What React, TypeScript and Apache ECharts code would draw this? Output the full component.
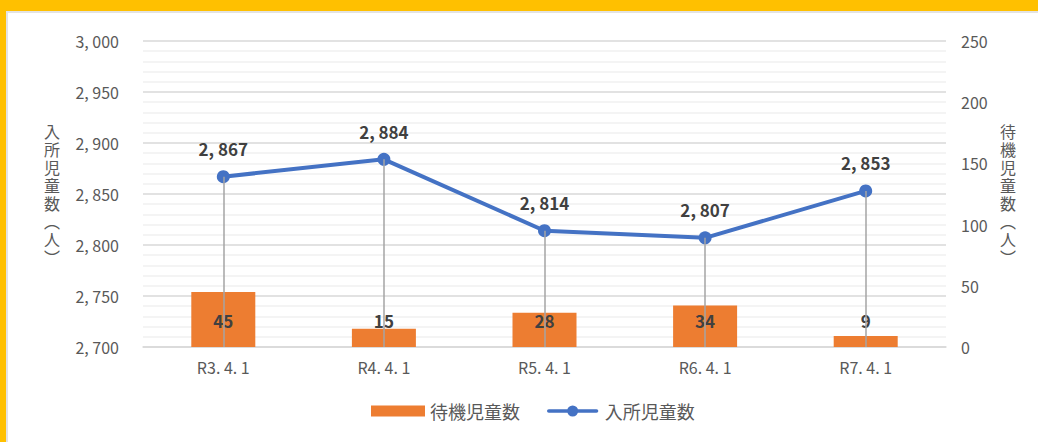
import React, { useEffect, useRef } from "react";
import * as echarts from "echarts";

const categories = ["R3. 4. 1", "R4. 4. 1", "R5. 4. 1", "R6. 4. 1", "R7. 4. 1"];
const enrolled = [2867, 2884, 2814, 2807, 2853]; // 入所児童数
const waiting = [45, 15, 28, 34, 9]; // 待機児童数
const leftMin = 2700;
const leftMax = 3000;
const rightMin = 0;
const rightMax = 250;

const FONT = "'Noto Sans CJK JP', 'Noto Sans', sans-serif";
const fmtComma = (v: number) => {
  const s = Math.round(v).toString();
  if (s.length <= 3) return s;
  return s.slice(0, s.length - 3) + ", " + s.slice(s.length - 3);
};
const vertical = (s: string) => s.split("").join("\n");
const LINE_ICON =
  "path://M2,4 L54,4 A2,2 0 0 1 54,8 L2,8 A2,2 0 0 1 2,4 Z M34,6 A6,6 0 1 1 22,6 A6,6 0 1 1 34,6 Z";

export default function App() {
  const ref = useRef<HTMLDivElement>(null);
  useEffect(() => {
    if (!ref.current) return;
    const chart = echarts.init(ref.current, undefined, { renderer: "svg" });
    const dropLines = enrolled.map((v, i) => [
      { coord: [i, leftMin] },
      { coord: [i, v] },
    ]);
    chart.setOption({
      animation: false,
      backgroundColor: "#ffffff",
      textStyle: { fontFamily: FONT },
      graphic: [
        { type: "rect", shape: { x: 0, y: 0, width: 1038, height: 11 }, style: { fill: "#FFC000" }, z: 100 },
        { type: "rect", shape: { x: 0, y: 0, width: 6, height: 442 }, style: { fill: "#FFC000" }, z: 100 },
        { type: "rect", shape: { x: 6, y: 11, width: 1032, height: 2 }, style: { fill: "#E3E3E3" }, z: 100 },
        { type: "rect", shape: { x: 6, y: 11, width: 2, height: 431 }, style: { fill: "#E3E3E3" }, z: 100 },
      ],
      grid: { left: 143, right: 92, top: 41, bottom: 95, containLabel: false },
      legend: {
        bottom: 17,
        left: 366,
        itemWidth: 54,
        itemHeight: 11,
        itemGap: 27,
        data: [
          { name: "待機児童数", icon: "rect" },
          { name: "入所児童数", icon: LINE_ICON, itemStyle: { color: "#4472C4" } },
        ],
        textStyle: { color: "#595959", fontSize: 18, fontFamily: FONT },
      },
      xAxis: {
        type: "category",
        data: categories,
        axisLine: { show: true, lineStyle: { color: "#D9D9D9", width: 1.5 } },
        axisTick: { show: false },
        axisLabel: { color: "#595959", fontSize: 16, margin: 12, fontFamily: FONT },
      },
      yAxis: [
        {
          type: "value",
          min: leftMin,
          max: leftMax,
          interval: 50,
          name: vertical("入所児童数︵人︶"),
          nameLocation: "middle",
          nameRotate: 0,
          nameGap: 83,
          nameTextStyle: { color: "#595959", fontSize: 16, lineHeight: 18, fontFamily: FONT },
          axisLine: { show: false },
          axisTick: { show: false },
          axisLabel: { color: "#595959", fontSize: 16, margin: 24, formatter: (v: number) => fmtComma(v), fontFamily: FONT },
          splitLine: { show: true, lineStyle: { color: "#D9D9D9", width: 1.5 } },
          minorTick: { show: false, splitNumber: 5 },
          minorSplitLine: { show: true, lineStyle: { color: "#F0F0F0", width: 1.5 } },
        },
        {
          type: "value",
          min: rightMin,
          max: rightMax,
          interval: 50,
          name: vertical("待機児童数︵人︶"),
          nameLocation: "middle",
          nameRotate: 0,
          nameGap: 54,
          nameTextStyle: { color: "#595959", fontSize: 16, lineHeight: 18, fontFamily: FONT },
          axisLine: { show: false },
          axisTick: { show: false },
          axisLabel: { color: "#595959", fontSize: 16, margin: 15, fontFamily: FONT },
          splitLine: { show: false },
        },
      ],
      series: [
        {
          name: "待機児童数",
          type: "bar",
          yAxisIndex: 1,
          data: waiting,
          barWidth: 64,
          itemStyle: { color: "#ED7D31" },
          z: 2,
          label: {
            show: true,
            position: "insideBottom",
            distance: 18,
            color: "#404040",
            fontWeight: "bold",
            fontSize: 17,
            fontFamily: FONT,
          },
        },
        {
          name: "入所児童数",
          type: "line",
          yAxisIndex: 0,
          data: enrolled,
          z: 3,
          symbol: "circle",
          symbolSize: 13,
          itemStyle: { color: "#4472C4" },
          lineStyle: { color: "#4472C4", width: 4 },
          label: {
            show: true,
            position: "top",
            distance: 13,
            color: "#404040",
            fontWeight: "bold",
            fontSize: 17,
            formatter: (p: any) => fmtComma(p.value),
            fontFamily: FONT,
          },
          markLine: {
            silent: true,
            symbol: ["none", "none"],
            label: { show: false },
            lineStyle: { color: "#A5A5A5", width: 1.5, type: "solid" },
            data: dropLines,
          },
        },
      ],
    });
    return () => chart.dispose();
  }, []);
  return (
    <div
      ref={ref}
      style={{ position: "absolute", left: 0, top: 0, width: 1038, height: 442 }}
    />
  );
}
